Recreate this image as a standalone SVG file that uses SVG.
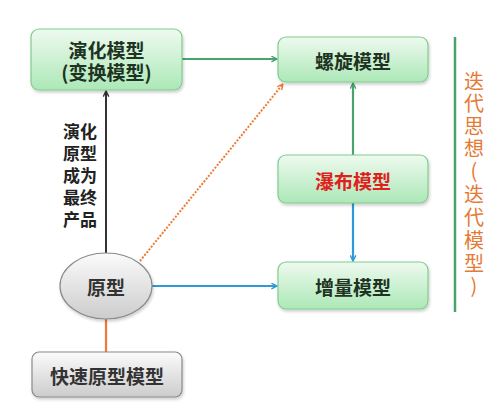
<svg xmlns="http://www.w3.org/2000/svg" width="500" height="410" viewBox="0 0 500 410">
<defs>
<linearGradient id="gGreen" x1="0" y1="0" x2="0" y2="1">
<stop offset="0" stop-color="#eefaef"/>
<stop offset="1" stop-color="#acE8b7"/>
</linearGradient>
<linearGradient id="gGray" x1="0" y1="0" x2="0" y2="1">
<stop offset="0" stop-color="#fbfbfb"/>
<stop offset="1" stop-color="#cccccc"/>
</linearGradient>
<filter id="sh" x="-10%" y="-10%" width="125%" height="130%">
<feDropShadow dx="1" dy="2" stdDeviation="1.5" flood-color="#000" flood-opacity="0.2"/>
</filter>
<marker id="aGreen" viewBox="0 0 10 10" refX="9" refY="5" markerWidth="7" markerHeight="7" markerUnits="userSpaceOnUse" orient="auto"><path d="M1,1 L9,5 L1,9" fill="none" stroke="#4aa36c" stroke-width="2"/></marker>
<marker id="aBlack" viewBox="0 0 10 10" refX="9" refY="5" markerWidth="7" markerHeight="7" markerUnits="userSpaceOnUse" orient="auto"><path d="M1,1 L9,5 L1,9" fill="none" stroke="#333" stroke-width="2"/></marker>
<marker id="aBlue" viewBox="0 0 10 10" refX="9" refY="5" markerWidth="7" markerHeight="7" markerUnits="userSpaceOnUse" orient="auto"><path d="M1,1 L9,5 L1,9" fill="none" stroke="#2f9ad6" stroke-width="2"/></marker>
<marker id="aOrange" viewBox="0 0 10 10" refX="9" refY="5" markerWidth="7" markerHeight="7" markerUnits="userSpaceOnUse" orient="auto"><path d="M1,1 L9,5 L1,9" fill="none" stroke="#ee7a35" stroke-width="2"/></marker>
</defs>
<style>
.box{fill:url(#gGreen);stroke:#80cc90;stroke-width:1.2;filter:url(#sh)}
.gbox{fill:url(#gGray);stroke:#8a8a8a;stroke-width:1.2;filter:url(#sh)}
.t{font-family:"Noto Sans CJK SC","Noto Sans",sans-serif;font-weight:bold;font-size:19px;fill:#1e3322;text-anchor:middle;dominant-baseline:central}
.lbl{font-family:"Noto Sans CJK SC","Noto Sans",sans-serif;font-weight:bold;font-size:17px;fill:#222;text-anchor:middle;dominant-baseline:central}
.side{font-family:"Noto Sans CJK SC","Noto Sans",sans-serif;font-weight:normal;font-size:20px;fill:#e47a35;text-anchor:middle;dominant-baseline:central}
</style>
<rect width="500" height="410" fill="#ffffff"/>
<g id="connectors" fill="none">
<line x1="182" y1="59" x2="277" y2="59" stroke="#4aa36c" stroke-width="2.2" marker-end="url(#aGreen)"/>
<line x1="353" y1="155" x2="353" y2="83" stroke="#4aa36c" stroke-width="2.2" marker-end="url(#aGreen)"/>
<line x1="353" y1="203" x2="353" y2="261" stroke="#2f9ad6" stroke-width="2.2" marker-end="url(#aBlue)"/>
<line x1="152" y1="286" x2="277" y2="286" stroke="#2f9ad6" stroke-width="2.2" marker-end="url(#aBlue)"/>
<line x1="106" y1="253" x2="106" y2="91" stroke="#333" stroke-width="2" marker-end="url(#aBlack)"/>
<line x1="140" y1="261" x2="283" y2="84" stroke="#ee7a35" stroke-width="2" stroke-dasharray="2 1.5" marker-end="url(#aOrange)"/>
<line x1="106" y1="319" x2="106" y2="352" stroke="#ee7a35" stroke-width="2.2"/>
</g>
<g id="n_yanhua"><rect class="box" x="31" y="29" width="151" height="61" rx="8"/><text class="t" x="106.5" y="49">演化模型</text><text class="t" x="106.5" y="71">(变换模型)</text></g>
<g id="n_luoxuan"><rect class="box" x="278" y="37" width="150" height="45" rx="8"/><text class="t" x="353" y="60">螺旋模型</text></g>
<g id="n_pubu"><rect class="box" x="278" y="155" width="150" height="48" rx="8"/><text class="t" x="353" y="180" style="fill:#e0201c">瀑布模型</text></g>
<g id="n_zengliang"><rect class="box" x="278" y="262" width="150" height="47" rx="8"/><text class="t" x="353" y="286">增量模型</text></g>
<g id="n_yuanxing"><ellipse class="gbox" cx="106" cy="286" rx="46" ry="33"/><text class="t" x="106" y="286" style="fill:#333">原型</text></g>
<g id="n_kuaisu"><rect class="gbox" x="32" y="352" width="150" height="45" rx="7"/><text class="t" x="107" y="375" style="fill:#333">快速原型模型</text></g>
<g id="label_evolve">
<text class="lbl" x="80" y="130">演化</text>
<text class="lbl" x="80" y="152">原型</text>
<text class="lbl" x="80" y="174">成为</text>
<text class="lbl" x="80" y="196">最终</text>
<text class="lbl" x="80" y="218">产品</text>
</g>
<g id="iterative">
<line x1="455" y1="37" x2="455" y2="312" stroke="#4aa36c" stroke-width="2.5"/>
<text class="side" x="474" y="80">迭</text>
<text class="side" x="474" y="102">代</text>
<text class="side" x="474" y="125">思</text>
<text class="side" x="474" y="147">想</text>
<text class="side" x="474" y="169">(</text>
<text class="side" x="474" y="193">迭</text>
<text class="side" x="474" y="216">代</text>
<text class="side" x="474" y="239">模</text>
<text class="side" x="474" y="262">型</text>
<text class="side" x="474" y="284">)</text>
</g>
</svg>
